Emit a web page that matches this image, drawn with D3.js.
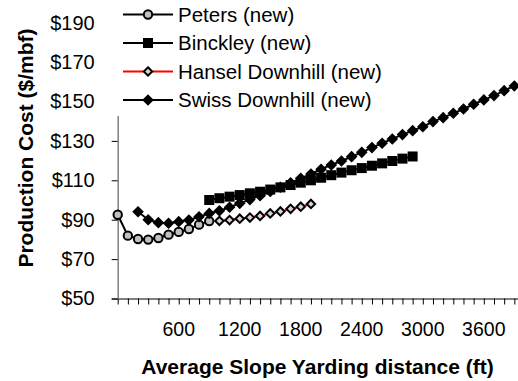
<!DOCTYPE html>
<html>
<head>
<meta charset="utf-8">
<script src="https://cdn.jsdelivr.net/npm/d3@7"></script>
<style>
  body { margin: 0; background: #fff; }
  svg { display: block; font-family: Arial, "Liberation Sans", sans-serif; }
</style>
</head>
<body>
<div class="chart-container"></div>
<script>
// distances (ft) and production cost ($/mbf)
const petersDist = [0, 100, 200, 300, 400, 500, 600, 700, 800, 900];
const petersCost = [92.5, 81.9, 80.2, 79.9, 80.7, 82.4, 83.8, 85.3, 87.5, 89.3];

const binckleyDist = [900, 1000, 1100, 1200, 1300, 1400, 1500, 1600, 1700, 1800, 1900,
  2000, 2100, 2200, 2300, 2400, 2500, 2600, 2700, 2800, 2900];
const binckleyCost = [100, 100.9, 101.7, 102.5, 103.4, 104.2, 105.3, 106.4, 107.6, 108.8, 110,
  111.3, 112.6, 113.9, 115.1, 116.2, 117.4, 118.6, 119.8, 121, 122.1];

const hanselDist = [1000, 1100, 1200, 1300, 1400, 1500, 1600, 1700, 1800, 1900];
const hanselCost = [89.4, 89.8, 90.5, 91.1, 91.9, 93.2, 94.2, 95.5, 96.6, 98];

const swissDist = [200, 300, 400, 500, 600, 700, 800, 900, 1000, 1100, 1200, 1300, 1400,
  1500, 1600, 1700, 1800, 1900, 2000, 2100, 2200, 2300, 2400, 2500, 2600, 2700, 2800,
  2900, 3000, 3100, 3200, 3300, 3400, 3500, 3600, 3700, 3800, 3900];
const swissCost = [94, 90, 88.5, 88.2, 89, 89.8, 91.5, 93.2, 94.5, 96.3, 98.3, 100.2, 102.2,
  104.3, 106.5, 108.7, 111, 113.2, 115.6, 117.8, 119.8, 122, 124.2, 126.6, 128.8, 131, 133.2,
  135.2, 137.2, 139.8, 141.8, 144, 146.2, 148.6, 150.8, 153, 155.5, 157.9];

const seriesNames = ['Peters (new)', 'Binckley (new)', 'Hansel Downhill (new)', 'Swiss Downhill (new)'];
const xTickLabels = [600, 1200, 1800, 2400, 3000, 3600];
const yTickLabels = [50, 70, 90, 110, 130, 150, 170, 190];

const width = 518, height = 381;

const series = [
  { name: seriesNames[0], dist: petersDist, cost: petersCost, line: '#000', marker: 'circle', fill: '#c0c0c0' },
  { name: seriesNames[1], dist: binckleyDist, cost: binckleyCost, line: '#000', marker: 'square', fill: '#000' },
  { name: seriesNames[2], dist: hanselDist, cost: hanselCost, line: '#ff0000', marker: 'diamondSmall', fill: '#d4d4d4' },
  { name: seriesNames[3], dist: swissDist, cost: swissCost, line: '#000', marker: 'diamond', fill: '#000' }
];

const svg = d3.select('.chart-container')
  .append('svg')
  .attr('width', width)
  .attr('height', height);

const x = d3.scaleLinear().domain([0, 4000]).range([117.7, 524.5]);
const y = d3.scaleLinear().domain([50, 200]).range([298.5, 3]);

// x axis: minor ticks every 100 ft, labels every 600
const xAxis = svg.append('g')
  .attr('transform', 'translate(0,' + y(50) + ')')
  .call(d3.axisBottom(x).tickValues(x.ticks(40)).tickSize(6).tickSizeOuter(0).tickFormat(''));
xAxis.select('.domain').attr('stroke', '#000').attr('d', 'M' + (x(0) - 6) + ',0.5H' + width);
xAxis.selectAll('.tick line').attr('stroke', '#000');

svg.append('g')
  .selectAll('text')
  .data(xTickLabels)
  .enter().append('text')
  .attr('x', d => x(d))
  .attr('y', 336)
  .attr('text-anchor', 'middle')
  .attr('font-size', 19.5)
  .text(d => d);

// y axis
const yAxis = svg.append('g')
  .attr('transform', 'translate(' + x(0) + ',0)')
  .call(d3.axisLeft(y).tickValues(yTickLabels).tickSize(6).tickSizeOuter(0)
    .tickPadding(17).tickFormat(d => '$' + d));
yAxis.select('.domain').attr('stroke', '#808080').attr('stroke-width', 1.5);
yAxis.selectAll('.tick line').attr('stroke', '#000');
yAxis.selectAll('.tick text').attr('font-size', 20).attr('font-family', null).attr('fill', '#000');

// series lines and markers
const line = d3.line()
  .x(d => x(d[0]))
  .y(d => y(d[1]));

function drawMarker(g, type, fill) {
  if (type === 'circle') {
    g.append('circle').attr('r', 4.2).attr('fill', fill).attr('stroke', '#000').attr('stroke-width', 2);
  } else if (type === 'square') {
    g.append('rect').attr('x', -5).attr('y', -5).attr('width', 10).attr('height', 10).attr('fill', fill);
  } else if (type === 'diamond') {
    g.append('path').attr('d', 'M0,-5.8L5.8,0L0,5.8L-5.8,0Z').attr('fill', fill);
  } else {
    g.append('path').attr('d', 'M0,-4.2L4.2,0L0,4.2L-4.2,0Z').attr('fill', fill)
      .attr('stroke', '#000').attr('stroke-width', 2);
  }
}

series.forEach(s => {
  const pts = s.dist.map((d, i) => [d, s.cost[i]]);
  svg.append('path')
    .datum(pts)
    .attr('fill', 'none')
    .attr('stroke', s.line)
    .attr('stroke-width', 2)
    .attr('d', line);
  pts.forEach(p => {
    const g = svg.append('g').attr('transform', 'translate(' + x(p[0]) + ',' + y(p[1]) + ')');
    drawMarker(g, s.marker, s.fill);
  });
});

// legend (white box over the top of the plot)
const legend = svg.append('g');
legend.append('rect')
  .attr('x', 102).attr('y', 0).attr('width', 298).attr('height', 116)
  .attr('fill', '#fff');

series.forEach((s, i) => {
  const ly = 14.5 + i * 28.5;
  legend.append('line')
    .attr('x1', 123).attr('x2', 173).attr('y1', ly).attr('y2', ly)
    .attr('stroke', s.line).attr('stroke-width', 2);
  drawMarker(legend.append('g').attr('transform', 'translate(148,' + ly + ')'), s.marker, s.fill);
  legend.append('text')
    .attr('x', 178).attr('y', ly).attr('dy', '0.35em')
    .attr('font-size', 20.5)
    .text(s.name);
});

// axis titles
svg.append('text')
  .attr('x', 317.5).attr('y', 374)
  .attr('text-anchor', 'middle')
  .attr('font-size', 21).attr('font-weight', 'bold')
  .text('Average Slope Yarding distance (ft)');

svg.append('text')
  .attr('transform', 'translate(33,148) rotate(-90)')
  .attr('text-anchor', 'middle')
  .attr('font-size', 21).attr('font-weight', 'bold')
  .text('Production Cost ($/mbf)');
</script>
</body>
</html>
